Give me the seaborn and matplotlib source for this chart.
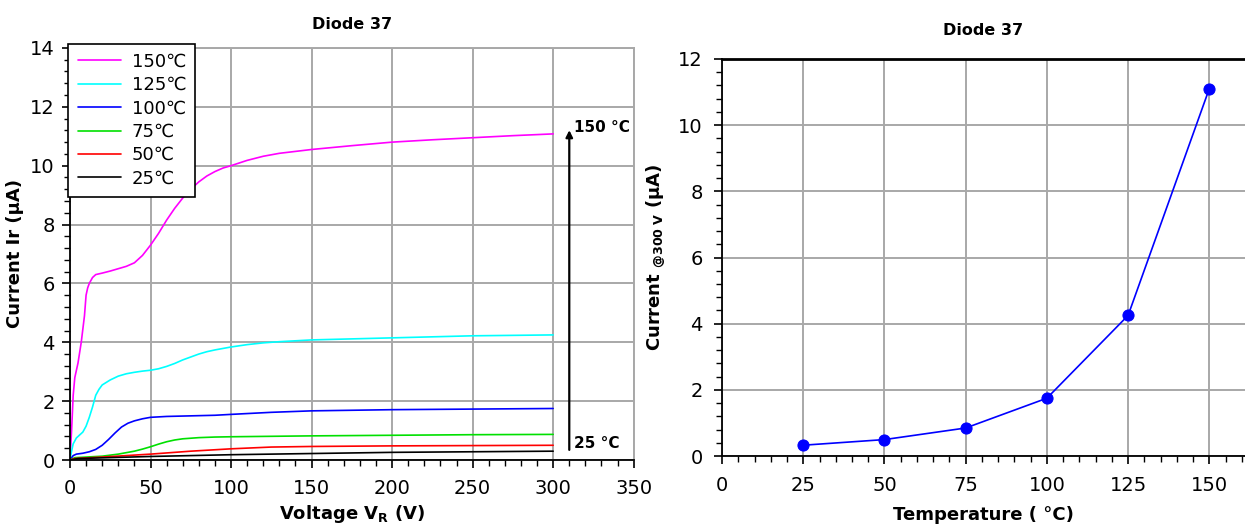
import numpy as np
import pandas as pd
import seaborn as sns
import matplotlib.pyplot as plt
from matplotlib.ticker import MultipleLocator

# Reverse current vs voltage, one curve per temperature
v_150 = [0, 1, 2, 3, 5, 7, 9, 10, 11, 12, 14, 16, 20, 25, 30, 35, 40, 45, 50, 55, 60, 65, 70, 75, 80, 85, 90, 95, 100, 110, 120, 130, 150, 175, 200, 225, 250, 275, 300]
i_150 = [0, 1.0, 2.2, 2.8, 3.3, 4.0, 4.9, 5.6, 5.85, 6.0, 6.2, 6.3, 6.35, 6.42, 6.5, 6.58, 6.7, 6.95, 7.3, 7.7, 8.15, 8.55, 8.9, 9.2, 9.45, 9.65, 9.8, 9.92, 10.0, 10.18, 10.32, 10.42, 10.55, 10.68, 10.8, 10.88, 10.95, 11.02, 11.08]

v_125 = [0, 1, 2, 4, 6, 8, 10, 12, 14, 16, 18, 20, 25, 30, 35, 40, 45, 50, 55, 60, 65, 70, 75, 80, 85, 90, 100, 110, 120, 130, 150, 200, 250, 300]
i_125 = [0, 0.3, 0.55, 0.75, 0.85, 0.95, 1.15, 1.45, 1.8, 2.2, 2.4, 2.55, 2.72, 2.85, 2.93, 2.98, 3.02, 3.05, 3.1, 3.18, 3.28, 3.4, 3.5, 3.6, 3.68, 3.74, 3.84, 3.92, 3.98, 4.02, 4.08, 4.15, 4.22, 4.25]

v_100 = [0, 2, 4, 8, 12, 16, 20, 24, 28, 32, 36, 40, 45, 50, 60, 75, 90, 100, 125, 150, 200, 250, 300]
i_100 = [0, 0.15, 0.2, 0.23, 0.28, 0.36, 0.5, 0.7, 0.92, 1.12, 1.25, 1.33, 1.4, 1.45, 1.48, 1.5, 1.52, 1.55, 1.62, 1.67, 1.71, 1.73, 1.75]

v_75 = [0, 3, 10, 20, 30, 40, 45, 50, 55, 60, 65, 70, 80, 90, 100, 150, 200, 250, 300]
i_75 = [0, 0.08, 0.1, 0.13, 0.2, 0.3, 0.37, 0.45, 0.54, 0.62, 0.68, 0.72, 0.76, 0.78, 0.79, 0.82, 0.84, 0.86, 0.87]

v_50 = [0, 3, 20, 50, 75, 100, 125, 150, 200, 300]
i_50 = [0, 0.05, 0.1, 0.2, 0.3, 0.38, 0.44, 0.46, 0.48, 0.5]

v_25 = [0, 5, 50, 100, 150, 200, 250, 300]
i_25 = [0, 0.05, 0.12, 0.18, 0.22, 0.26, 0.28, 0.3]

curve_labels = ['150℃', '125℃', '100℃', '75℃', '50℃', '25℃']
curve_colors = ['#ff00ff', '#00ffff', '#0000ff', '#00e000', '#ff0000', '#000000']
curve_v = [v_150, v_125, v_100, v_75, v_50, v_25]
curve_i = [i_150, i_125, i_100, i_75, i_50, i_25]

# Current at 300 V vs temperature
temps = [25, 50, 75, 100, 125, 150]
i_300 = [0.33, 0.5, 0.85, 1.75, 4.25, 11.1]

frames = []
for lab, vv, ii in zip(curve_labels, curve_v, curve_i):
    frames.append(pd.DataFrame({'V': vv, 'I': ii, 'T': lab}))
df = pd.concat(frames, ignore_index=True)
df_t = pd.DataFrame({'T': temps, 'I': i_300})

sns.set_theme(style='white')
plt.rcParams['font.family'] = ['DejaVu Sans']
plt.rcParams['text.color'] = 'black'
plt.rcParams['axes.labelcolor'] = 'black'
plt.rcParams['xtick.color'] = 'black'
plt.rcParams['ytick.color'] = 'black'

fig = plt.figure(figsize=(12.45, 5.31), dpi=100)
ax1 = fig.add_axes([0.0562, 0.1337, 0.4528, 0.776])
ax2 = fig.add_axes([0.58, 0.141, 0.42, 0.748])

grid_kw = dict(color='#a8a8a8', linewidth=1.4)


def style_axes(ax, ypad):
    ax.grid(True, which='major', **grid_kw)
    ax.set_axisbelow(True)
    ax.tick_params(which='major', direction='out', length=6, width=1.2, left=True, bottom=True,
                   labelsize=14)
    ax.tick_params(axis='x', which='major', pad=8)
    ax.tick_params(axis='y', which='major', pad=ypad)
    ax.tick_params(which='minor', direction='out', length=4, width=1.0, left=True, bottom=True)
    for s in ['left', 'bottom']:
        ax.spines[s].set_color('black')
        ax.spines[s].set_linewidth(1.3)


# ---- left: I-V curves
sns.lineplot(data=df, x='V', y='I', hue='T', hue_order=curve_labels,
             palette=dict(zip(curve_labels, curve_colors)), linewidth=1.2,
             estimator=None, sort=False, ax=ax1)
ax1.set_xlim(0, 350)
ax1.set_ylim(0, 14)
ax1.xaxis.set_major_locator(MultipleLocator(50))
ax1.xaxis.set_minor_locator(MultipleLocator(10))
ax1.yaxis.set_major_locator(MultipleLocator(2))
ax1.yaxis.set_minor_locator(MultipleLocator(0.4))
style_axes(ax1, 5)
for s in ['top', 'right']:
    ax1.spines[s].set_color('#a8a8a8')
    ax1.spines[s].set_linewidth(1.4)
ax1.set_xlabel('Voltage V$_\\mathregular{R}$ (V)', fontsize=13, fontweight='bold', labelpad=3)
ax1.set_ylabel('Current Ir (µA)', fontsize=13, fontweight='bold', labelpad=4)
ax1.set_title('Diode 37', fontsize=11.5, fontweight='bold', pad=14)

ax1.annotate('', xy=(310, 11.3), xytext=(310, 0.25),
             arrowprops=dict(arrowstyle='-|>', color='black', lw=1.6, mutation_scale=10))
ax1.text(313, 11.3, '150 °C', fontsize=11, fontweight='bold', va='center', ha='left')
ax1.text(313, 0.55, '25 °C', fontsize=11, fontweight='bold', va='center', ha='left')

handles, labels = ax1.get_legend_handles_labels()
leg = ax1.legend(handles, labels, loc='upper left', bbox_to_anchor=(0.055, 0.918),
                 bbox_transform=fig.transFigure, fontsize=13, frameon=True, fancybox=False,
                 edgecolor='black', framealpha=1, borderpad=0.5, labelspacing=0.3,
                 handlelength=2.4, handletextpad=0.6, borderaxespad=0)
leg.get_frame().set_linewidth(1.2)

# ---- right: current at 300 V
sns.lineplot(data=df_t, x='T', y='I', color='#0000ff', linewidth=1.2, marker='o',
             markersize=8, markeredgecolor='#0000ff', ax=ax2)
ax2.set_xlim(0, 161)
ax2.set_ylim(0, 12)
ax2.xaxis.set_major_locator(MultipleLocator(25))
ax2.xaxis.set_minor_locator(MultipleLocator(5))
ax2.yaxis.set_major_locator(MultipleLocator(2))
ax2.yaxis.set_minor_locator(MultipleLocator(0.4))
style_axes(ax2, 8)
ax2.spines['top'].set_color('black')
ax2.spines['top'].set_linewidth(2.0)
ax2.spines['right'].set_visible(False)
ax2.set_xlabel('Temperature ( °C)', fontsize=13, fontweight='bold', labelpad=8)
ax2.set_ylabel('Current $_{\\mathregular{@300\\ V}}$ (µA)', fontsize=13, fontweight='bold', labelpad=8)
ax2.set_title('Diode 37', fontsize=11.5, fontweight='bold', pad=17)

fig.savefig('out.png', dpi=100)
